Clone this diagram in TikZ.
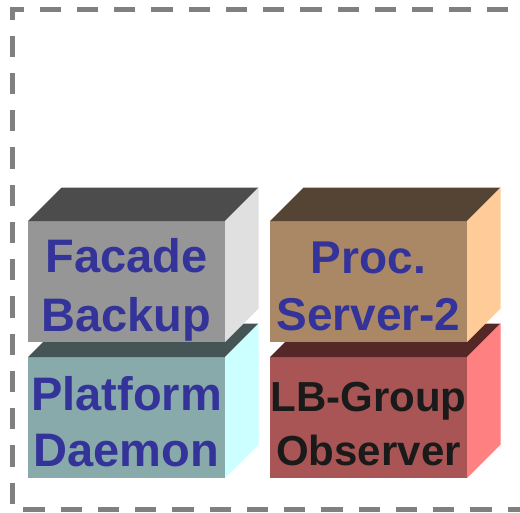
\documentclass[tikz,border=0pt]{standalone}
\usepackage{fontspec}
\setmainfont{Liberation Sans}
\definecolor{fbfront}{RGB}{150,150,150}
\definecolor{fbtop}{RGB}{76,76,76}
\definecolor{fbside}{RGB}{224,224,224}
\definecolor{pdfront}{RGB}{136,170,170}
\definecolor{pdtop}{RGB}{69,85,85}
\definecolor{pdside}{RGB}{204,255,255}
\definecolor{psfront}{RGB}{170,136,102}
\definecolor{pstop}{RGB}{85,68,51}
\definecolor{psside}{RGB}{255,204,153}
\definecolor{lbfront}{RGB}{170,85,85}
\definecolor{lbtop}{RGB}{85,39,39}
\definecolor{lbside}{RGB}{255,128,128}
\definecolor{labblue}{RGB}{51,51,153}
\definecolor{labblack}{RGB}{26,26,26}
\definecolor{bordergray}{RGB}{128,128,128}

\begin{document}
\begin{tikzpicture}[x=1pt, y=-1pt,
face/.style={anchor=north west, minimum width=197pt, minimum height=121pt, inner sep=0, outer sep=0},
lab/.style={align=center, inner sep=0},
border/.style={draw=bordergray, line width=5pt, dash pattern=on 21.25pt off 16pt, dash phase=15.2pt}]
	\useasboundingbox (0,0) rectangle (520,512);
	\draw[border] (530,9.5) -- (12.5,9.5) -- (12.5,509) -- (530,509);
	% lower row
	\node[face, fill=pdfront] at (28,357) (pd) {};
	\fill[pdtop] (pd.north west) -- ++(33.5,-33.5) -- ++(197,0) -- (pd.north east) -- cycle;
	\fill[pdside] (pd.north east) -- ++(33.5,-33.5) -- ++(0,121) -- (pd.south east) -- cycle;
	\node[face, fill=lbfront] at ([xshift=45pt]pd.north east) (lb) {};
	\fill[lbtop] (lb.north west) -- ++(33.5,-33.5) -- ++(197,0) -- (lb.north east) -- cycle;
	\fill[lbside] (lb.north east) -- ++(33.5,-33.5) -- ++(0,121) -- (lb.south east) -- cycle;
	% upper row
	\node[face, fill=fbfront, anchor=south west] at ([yshift=15pt]pd.north west) (fb) {};
	\fill[fbtop] (fb.north west) -- ++(33.5,-33.5) -- ++(197,0) -- (fb.north east) -- cycle;
	\fill[fbside] (fb.north east) -- ++(33.5,-33.5) -- ++(0,121) -- (fb.south east) -- cycle;
	\node[face, fill=psfront] at ([xshift=45pt]fb.north east) (ps) {};
	\fill[pstop] (ps.north west) -- ++(33.5,-33.5) -- ++(197,0) -- (ps.north east) -- cycle;
	\fill[psside] (ps.north east) -- ++(33.5,-33.5) -- ++(0,121) -- (ps.south east) -- cycle;
	% labels
	\node[lab, text=labblue, font=\fontsize{47}{59}\bfseries\selectfont, yshift=-8pt] at (fb.center) (fb-lab) {Facade\\Backup};
	\node[lab, text=labblue, font=\fontsize{46}{57}\bfseries\selectfont, yshift=-5pt] at (ps.center) (ps-lab) {Proc.\\Server-2};
	\node[lab, text=labblue, font=\fontsize{47}{56}\bfseries\selectfont, yshift=-3.7pt] at (pd.center) (pd-lab) {Platform\\Daemon};
	\node[lab, text=labblack, font=\fontsize{42}{54}\bfseries\selectfont, yshift=-6.5pt] at (lb.center) (lb-lab) {LB-Group\\Observer};
\end{tikzpicture}
\end{document}
